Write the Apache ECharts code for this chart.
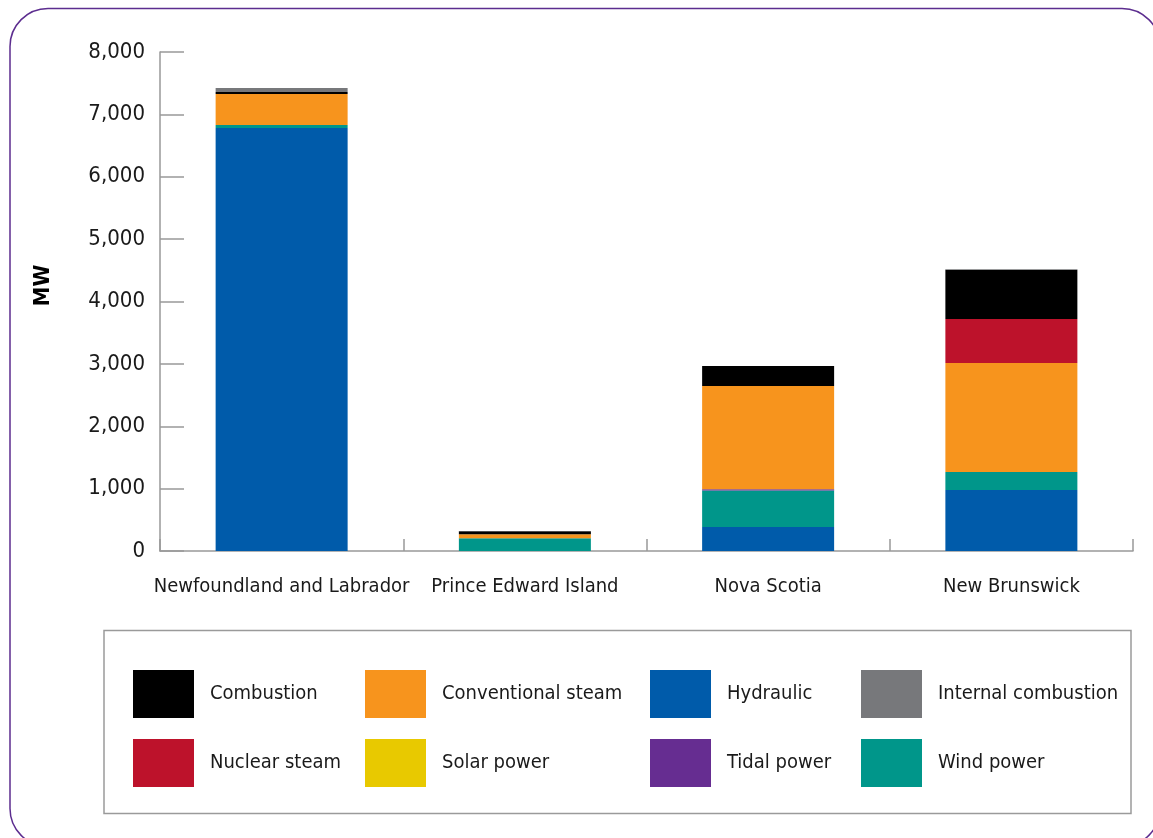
<!DOCTYPE html>
<html>
<head>
<meta charset="utf-8">
<title>Generating capacity by province</title>
<script src="https://cdn.jsdelivr.net/npm/echarts@6/dist/echarts.min.js"></script>
<style>
  html, body { margin: 0; padding: 0; background: #ffffff; }
  #chart { width: 1153px; height: 838px; }
</style>
</head>
<body>
<div id="chart"></div>
<script>
// Installed capacity (MW) by province and generation type
const provinces = ['Newfoundland and Labrador', 'Prince Edward Island', 'Nova Scotia', 'New Brunswick'];
const yTicks = [0, 1000, 2000, 3000, 4000, 5000, 6000, 7000, 8000];

const hydraulic          = [6782,   0,  385,  978];
const windPower          = [  48, 204,  585,  289];
const tidalPower         = [   0,   0,   20,    0];
const solarPower         = [   0,   0,    0,    0];
const conventionalSteam  = [ 497,  65, 1655, 1747];
const nuclearSteam       = [   0,   0,    0,  705];
const combustion         = [  32,  48,  321,  791];
const internalCombustion = [  64,   4,    0,    8];

const FONT = '"DejaVu Sans Condensed", "Liberation Sans", sans-serif';
const TEXT = '#1a1a1a';

// Stacked from the bottom of each bar upward
const stackOrder = [
  { name: 'Hydraulic',           data: hydraulic,          color: '#005baa' },
  { name: 'Wind power',          data: windPower,          color: '#00968a' },
  { name: 'Tidal power',         data: tidalPower,         color: '#662d91' },
  { name: 'Solar power',         data: solarPower,         color: '#e8c900' },
  { name: 'Conventional steam',  data: conventionalSteam,  color: '#f7941d' },
  { name: 'Nuclear steam',       data: nuclearSteam,       color: '#bd122b' },
  { name: 'Combustion',          data: combustion,         color: '#000000' },
  { name: 'Internal combustion', data: internalCombustion, color: '#77787b' }
];

const legendColumns = [
  ['Combustion', 'Nuclear steam'],
  ['Conventional steam', 'Solar power'],
  ['Hydraulic', 'Tidal power'],
  ['Internal combustion', 'Wind power']
];
const legendLefts = [133, 365, 650, 861];

const chart = echarts.init(document.getElementById('chart'), null, { renderer: 'canvas' });

const option = {
  backgroundColor: '#ffffff',
  animation: false,
  textStyle: { fontFamily: FONT },
  graphic: [
    {
      type: 'rect',
      shape: { x: 10, y: 8.5, width: 1150, height: 838, r: 38 },
      style: { fill: 'none', stroke: '#5c2d8f', lineWidth: 1.5 },
      silent: true, z: -10
    },
    {
      type: 'rect',
      shape: { x: 104, y: 630.5, width: 1027, height: 183 },
      style: { fill: 'none', stroke: '#9a9a9a', lineWidth: 1.5 },
      silent: true, z: -10
    }
  ],
  legend: legendColumns.map((col, i) => ({
    orient: 'vertical',
    left: legendLefts[i],
    top: 670,
    padding: 0,
    itemWidth: 61,
    itemHeight: 48,
    itemGap: 21,
    icon: 'rect',
    selectedMode: false,
    data: col,
    textStyle: { fontFamily: FONT, fontSize: 20, color: TEXT, padding: [2, 0, 0, 11] }
  })),
  grid: { left: 160, right: 20, top: 52, bottom: 287, containLabel: false },
  xAxis: {
    type: 'category',
    data: provinces,
    axisLine: { lineStyle: { color: '#999999', width: 1.5 } },
    axisTick: { show: true, inside: true, length: 12, alignWithLabel: false, lineStyle: { color: '#999999', width: 1.5 } },
    axisLabel: { fontFamily: FONT, fontSize: 20, color: TEXT, margin: 26, interval: 0 }
  },
  yAxis: {
    type: 'value',
    min: 0,
    max: 8000,
    interval: 1000,
    name: 'MW',
    nameLocation: 'middle',
    nameRotate: 90,
    nameGap: 106,
    nameTextStyle: { fontFamily: FONT, fontSize: 22, fontWeight: 'bold', color: '#000000', padding: [0, 0, 0, 32] },
    axisLine: { show: true, lineStyle: { color: '#999999', width: 1.5 } },
    axisTick: { show: true, inside: true, length: 24, lineStyle: { color: '#999999', width: 1.5 } },
    splitLine: { show: false },
    axisLabel: {
      fontFamily: FONT, fontSize: 22, color: TEXT, margin: 15,
      formatter: v => (yTicks.includes(v) ? v.toLocaleString('en-US') : '')
    }
  },
  series: stackOrder.map(s => ({
    name: s.name,
    type: 'bar',
    stack: 'capacity',
    barWidth: 132,
    data: s.data,
    itemStyle: { color: s.color },
    emphasis: { disabled: true }
  }))
};

chart.setOption(option);
</script>
</body>
</html>
